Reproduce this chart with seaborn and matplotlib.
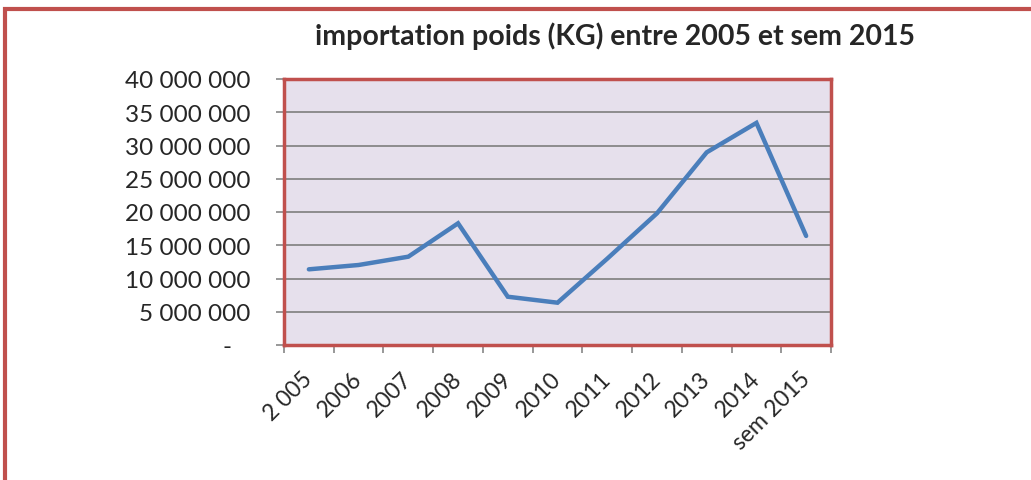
import pandas as pd
import matplotlib
matplotlib.use("Agg")
import matplotlib.pyplot as plt
import seaborn as sns
from matplotlib.patches import Rectangle
from matplotlib.ticker import FuncFormatter, FixedLocator
from matplotlib.transforms import ScaledTranslation

years = ["2 005", "2006", "2007", "2008", "2009", "2010", "2011", "2012", "2013", "2014", "sem 2015"]
poids = [11380000, 12030000, 13280000, 18300000, 7260000, 6360000, 12980000, 19800000, 28970000, 33400000, 16400000]

data = pd.DataFrame({"Annee": years, "Poids": poids})

sns.set_style("white")
plt.rcParams["font.family"] = ["Lato", "DejaVu Sans"]


def fmt(v, p):
    # format comptable : espaces pour les milliers, tiret pour zero
    if v == 0:
        return "-   "
    return f"{int(v):,}".replace(",", " ")


fig = plt.figure(figsize=(10.31, 4.81), dpi=100)
ax = fig.add_axes([284 / 1031, 1 - 346 / 481, (831 - 284) / 1031, (346 - 80) / 481])

sns.lineplot(x="Annee", y="Poids", data=data, ax=ax, color="#4A7EBB", linewidth=3.2,
             sort=False, solid_capstyle="round", solid_joinstyle="miter")

ax.set_facecolor("#E6E0EC")
ax.set_xlim(-0.5, len(years) - 0.5)
ax.set_ylim(0, 40000000)
ax.set_yticks(range(0, 40000001, 5000000))
ax.yaxis.set_major_formatter(FuncFormatter(fmt))
ax.grid(axis="y", color="#868686", linewidth=1.3)
ax.set_axisbelow(True)

# etiquettes au centre des categories, graduations aux limites
ax.set_xticks(range(len(years)))
ax.set_xticklabels(years, rotation=45, ha="right", rotation_mode="anchor", fontsize=16.5)
ax.tick_params(axis="x", which="major", length=0, pad=16)
shift = ScaledTranslation(-7 / 100, 0, fig.dpi_scale_trans)
for lab in ax.get_xticklabels():
    lab.set_transform(lab.get_transform() + shift)
ax.xaxis.set_minor_locator(FixedLocator([i - 0.5 for i in range(len(years) + 1)]))
ax.tick_params(axis="x", which="minor", length=6, color="#868686", width=1.2, bottom=True)
ax.tick_params(axis="y", length=6, color="#868686", width=1.2, left=True, labelsize=17.5, pad=18)
ax.set_xlabel("")
ax.set_ylabel("")

for s in ax.spines.values():
    s.set_color("#C0504D")
    s.set_linewidth(2.5)

fig.text(315 / 1031, 1 - 36 / 481, "importation poids (KG) entre 2005 et sem 2015",
         ha="left", va="center", fontsize=20.5, fontweight="bold")

fig.patches.append(Rectangle((5 / 1031, -0.1), 1.2, 1 - 10 / 481 + 0.1, transform=fig.transFigure,
                             fill=False, edgecolor="#C0504D", linewidth=3, clip_on=False))

fig.savefig("out.png", dpi=100)
